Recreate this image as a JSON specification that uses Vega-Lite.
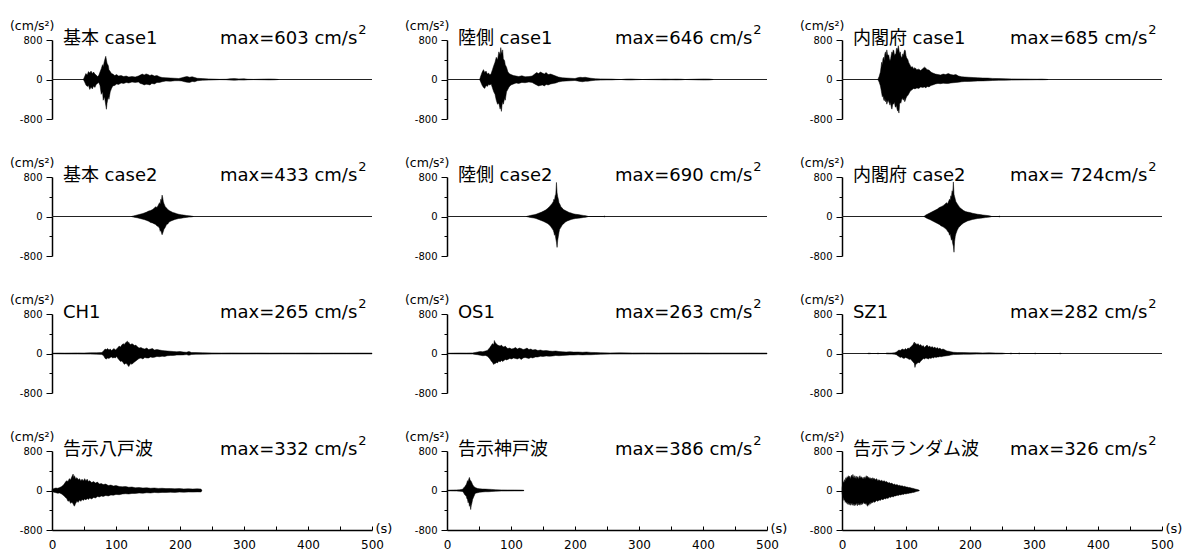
{
  "$schema": "https://vega.github.io/schema/vega-lite/v6.json",
  "padding": {"left": 9, "top": 18, "right": 5, "bottom": 5},
  "background": "white",
  "config": {
    "view": {"stroke": null},
    "font": "DejaVu Sans, Noto Sans CJK JP",
    "locale": {"number": {"decimal": ".", "thousands": ",", "grouping": [3], "currency": ["$", ""], "minus": "-"}},
    "axis": {"grid": false, "labelOverlap": false, "domainColor": "black", "tickColor": "black", "labelColor": "black", "titleColor": "black", "titleFontWeight": "normal", "labelFont": "DejaVu Sans", "titleFont": "DejaVu Sans"}
  },
  "data": {
    "values": [
      {"i":0,"name":"基本 case1","m":"max=603 cm/s","dur":500},
      {"i":1,"name":"陸側 case1","m":"max=646 cm/s","dur":500},
      {"i":2,"name":"内閣府 case1","m":"max=685 cm/s","dur":500},
      {"i":3,"name":"基本 case2","m":"max=433 cm/s","dur":500},
      {"i":4,"name":"陸側 case2","m":"max=690 cm/s","dur":500},
      {"i":5,"name":"内閣府 case2","m":"max= 724cm/s","dur":500},
      {"i":6,"name":"CH1","m":"max=265 cm/s","dur":500},
      {"i":7,"name":"OS1","m":"max=263 cm/s","dur":500},
      {"i":8,"name":"SZ1","m":"max=282 cm/s","dur":500},
      {"i":9,"name":"告示八戸波","m":"max=332 cm/s","dur":234},
      {"i":10,"name":"告示神戸波","m":"max=386 cm/s","dur":120},
      {"i":11,"name":"告示ランダム波","m":"max=326 cm/s","dur":120},

      {"i":0,"t":49,"h":0,"l":0},{"i":0,"t":51,"h":60,"l":-50},{"i":0,"t":53,"h":120,"l":-110},{"i":0,"t":55,"h":90,"l":-140},
      {"i":0,"t":57,"h":160,"l":-120},{"i":0,"t":59,"h":130,"l":-200},{"i":0,"t":61,"h":170,"l":-150},{"i":0,"t":63,"h":120,"l":-190},
      {"i":0,"t":65,"h":150,"l":-130},{"i":0,"t":67,"h":110,"l":-160},{"i":0,"t":69,"h":90,"l":-100},{"i":0,"t":71,"h":60,"l":-80},
      {"i":0,"t":73,"h":80,"l":-60},{"i":0,"t":75,"h":150,"l":-120},{"i":0,"t":77,"h":220,"l":-300},{"i":0,"t":79,"h":300,"l":-250},
      {"i":0,"t":80,"h":260,"l":-420},{"i":0,"t":82,"h":380,"l":-350},{"i":0,"t":84,"h":470,"l":-520},{"i":0,"t":85,"h":400,"l":-603},
      {"i":0,"t":86,"h":330,"l":-480},{"i":0,"t":88,"h":280,"l":-350},{"i":0,"t":89,"h":200,"l":-400},{"i":0,"t":91,"h":160,"l":-250},
      {"i":0,"t":93,"h":120,"l":-180},{"i":0,"t":95,"h":110,"l":-130},{"i":0,"t":98,"h":80,"l":-120},{"i":0,"t":101,"h":100,"l":-90},
      {"i":0,"t":104,"h":70,"l":-100},{"i":0,"t":108,"h":80,"l":-70},{"i":0,"t":112,"h":60,"l":-80},{"i":0,"t":116,"h":70,"l":-60},
      {"i":0,"t":120,"h":50,"l":-70},{"i":0,"t":125,"h":60,"l":-50},{"i":0,"t":130,"h":50,"l":-60},{"i":0,"t":135,"h":70,"l":-50},
      {"i":0,"t":138,"h":90,"l":-80},{"i":0,"t":141,"h":110,"l":-90},{"i":0,"t":144,"h":90,"l":-110},{"i":0,"t":147,"h":113,"l":-95},
      {"i":0,"t":150,"h":100,"l":-100},{"i":0,"t":153,"h":80,"l":-110},{"i":0,"t":156,"h":95,"l":-80},{"i":0,"t":160,"h":70,"l":-90},
      {"i":0,"t":164,"h":80,"l":-60},{"i":0,"t":168,"h":55,"l":-60},{"i":0,"t":172,"h":40,"l":-45},{"i":0,"t":178,"h":35,"l":-30},
      {"i":0,"t":185,"h":30,"l":-35},{"i":0,"t":192,"h":25,"l":-25},{"i":0,"t":198,"h":20,"l":-25},{"i":0,"t":203,"h":35,"l":-30},
      {"i":0,"t":207,"h":50,"l":-45},{"i":0,"t":211,"h":60,"l":-55},{"i":0,"t":215,"h":45,"l":-60},{"i":0,"t":219,"h":55,"l":-40},
      {"i":0,"t":223,"h":40,"l":-45},{"i":0,"t":227,"h":25,"l":-25},{"i":0,"t":235,"h":18,"l":-15},{"i":0,"t":245,"h":12,"l":-12},
      {"i":0,"t":253,"h":8,"l":-8},{"i":0,"t":262,"h":3,"l":-3},{"i":0,"t":272,"h":5,"l":-5},{"i":0,"t":278,"h":15,"l":-12},
      {"i":0,"t":285,"h":18,"l":-15},{"i":0,"t":292,"h":12,"l":-10},{"i":0,"t":300,"h":14,"l":-12},{"i":0,"t":306,"h":5,"l":-5},
      {"i":0,"t":315,"h":2,"l":-2},{"i":0,"t":332,"h":8,"l":-6},{"i":0,"t":340,"h":10,"l":-8},{"i":0,"t":348,"h":7,"l":-6},
      {"i":0,"t":354,"h":0,"l":0},

      {"i":1,"t":51,"h":0,"l":0},{"i":1,"t":53,"h":80,"l":-60},{"i":1,"t":55,"h":150,"l":-120},{"i":1,"t":57,"h":200,"l":-160},
      {"i":1,"t":59,"h":140,"l":-180},{"i":1,"t":61,"h":170,"l":-120},{"i":1,"t":63,"h":110,"l":-140},{"i":1,"t":65,"h":130,"l":-100},
      {"i":1,"t":67,"h":90,"l":-110},{"i":1,"t":69,"h":120,"l":-90},{"i":1,"t":71,"h":200,"l":-170},{"i":1,"t":73,"h":280,"l":-250},
      {"i":1,"t":75,"h":350,"l":-300},{"i":1,"t":77,"h":450,"l":-420},{"i":1,"t":79,"h":400,"l":-500},{"i":1,"t":81,"h":560,"l":-480},
      {"i":1,"t":83,"h":500,"l":-600},{"i":1,"t":84,"h":646,"l":-550},{"i":1,"t":85,"h":560,"l":-646},{"i":1,"t":86,"h":520,"l":-520},
      {"i":1,"t":87,"h":600,"l":-450},{"i":1,"t":88,"h":420,"l":-500},{"i":1,"t":90,"h":380,"l":-380},{"i":1,"t":91,"h":300,"l":-420},
      {"i":1,"t":93,"h":250,"l":-250},{"i":1,"t":95,"h":160,"l":-200},{"i":1,"t":97,"h":120,"l":-150},{"i":1,"t":100,"h":100,"l":-110},
      {"i":1,"t":104,"h":80,"l":-90},{"i":1,"t":108,"h":70,"l":-70},{"i":1,"t":112,"h":60,"l":-80},{"i":1,"t":117,"h":75,"l":-60},
      {"i":1,"t":122,"h":55,"l":-65},{"i":1,"t":128,"h":60,"l":-50},{"i":1,"t":133,"h":70,"l":-60},{"i":1,"t":137,"h":110,"l":-90},
      {"i":1,"t":140,"h":140,"l":-110},{"i":1,"t":143,"h":120,"l":-130},{"i":1,"t":146,"h":150,"l":-120},{"i":1,"t":149,"h":130,"l":-110},
      {"i":1,"t":152,"h":110,"l":-130},{"i":1,"t":155,"h":140,"l":-100},{"i":1,"t":158,"h":100,"l":-110},{"i":1,"t":162,"h":110,"l":-90},
      {"i":1,"t":166,"h":90,"l":-80},{"i":1,"t":170,"h":70,"l":-70},{"i":1,"t":174,"h":50,"l":-50},{"i":1,"t":180,"h":35,"l":-35},
      {"i":1,"t":186,"h":30,"l":-30},{"i":1,"t":193,"h":25,"l":-25},{"i":1,"t":200,"h":20,"l":-20},{"i":1,"t":204,"h":35,"l":-30},
      {"i":1,"t":208,"h":45,"l":-40},{"i":1,"t":212,"h":40,"l":-45},{"i":1,"t":216,"h":45,"l":-35},{"i":1,"t":220,"h":35,"l":-35},
      {"i":1,"t":225,"h":25,"l":-25},{"i":1,"t":232,"h":15,"l":-15},{"i":1,"t":240,"h":12,"l":-12},{"i":1,"t":250,"h":10,"l":-8},
      {"i":1,"t":258,"h":8,"l":-8},{"i":1,"t":264,"h":3,"l":-3},{"i":1,"t":272,"h":0,"l":0},{"i":1,"t":280,"h":8,"l":-8},
      {"i":1,"t":288,"h":10,"l":-10},{"i":1,"t":295,"h":5,"l":-5},{"i":1,"t":305,"h":0,"l":0},{"i":1,"t":332,"h":6,"l":-6},
      {"i":1,"t":340,"h":8,"l":-8},{"i":1,"t":350,"h":6,"l":-6},{"i":1,"t":358,"h":8,"l":-8},{"i":1,"t":366,"h":6,"l":-6},
      {"i":1,"t":372,"h":0,"l":0},{"i":1,"t":394,"h":8,"l":-8},{"i":1,"t":402,"h":10,"l":-10},{"i":1,"t":410,"h":8,"l":-8},
      {"i":1,"t":416,"h":0,"l":0},

      {"i":2,"t":56,"h":0,"l":0},{"i":2,"t":58,"h":60,"l":-50},{"i":2,"t":60,"h":150,"l":-130},{"i":2,"t":61,"h":250,"l":-200},
      {"i":2,"t":62,"h":350,"l":-280},{"i":2,"t":63,"h":300,"l":-350},{"i":2,"t":64,"h":420,"l":-320},{"i":2,"t":65,"h":450,"l":-400},
      {"i":2,"t":66,"h":380,"l":-430},{"i":2,"t":67,"h":520,"l":-380},{"i":2,"t":68,"h":560,"l":-450},{"i":2,"t":69,"h":480,"l":-420},
      {"i":2,"t":70,"h":600,"l":-500},{"i":2,"t":71,"h":520,"l":-460},{"i":2,"t":72,"h":480,"l":-420},{"i":2,"t":73,"h":500,"l":-450},
      {"i":2,"t":74,"h":420,"l":-480},{"i":2,"t":75,"h":380,"l":-520},{"i":2,"t":76,"h":420,"l":-460},{"i":2,"t":77,"h":500,"l":-560},
      {"i":2,"t":78,"h":560,"l":-600},{"i":2,"t":79,"h":520,"l":-520},{"i":2,"t":80,"h":600,"l":-480},{"i":2,"t":81,"h":580,"l":-500},
      {"i":2,"t":82,"h":480,"l":-450},{"i":2,"t":83,"h":520,"l":-550},{"i":2,"t":84,"h":500,"l":-560},{"i":2,"t":85,"h":620,"l":-520},
      {"i":2,"t":86,"h":640,"l":-600},{"i":2,"t":87,"h":580,"l":-640},{"i":2,"t":88,"h":685,"l":-620},{"i":2,"t":89,"h":600,"l":-680},
      {"i":2,"t":90,"h":520,"l":-500},{"i":2,"t":91,"h":560,"l":-460},{"i":2,"t":92,"h":480,"l":-480},{"i":2,"t":93,"h":440,"l":-420},
      {"i":2,"t":94,"h":460,"l":-380},{"i":2,"t":95,"h":520,"l":-400},{"i":2,"t":96,"h":480,"l":-420},{"i":2,"t":97,"h":560,"l":-380},
      {"i":2,"t":98,"h":600,"l":-450},{"i":2,"t":99,"h":580,"l":-420},{"i":2,"t":100,"h":480,"l":-380},{"i":2,"t":101,"h":440,"l":-350},
      {"i":2,"t":103,"h":400,"l":-320},{"i":2,"t":104,"h":350,"l":-300},{"i":2,"t":106,"h":300,"l":-250},{"i":2,"t":108,"h":250,"l":-220},
      {"i":2,"t":110,"h":260,"l":-200},{"i":2,"t":112,"h":220,"l":-180},{"i":2,"t":114,"h":240,"l":-190},{"i":2,"t":117,"h":200,"l":-170},
      {"i":2,"t":120,"h":210,"l":-180},{"i":2,"t":123,"h":180,"l":-150},{"i":2,"t":126,"h":220,"l":-160},{"i":2,"t":129,"h":250,"l":-150},
      {"i":2,"t":131,"h":230,"l":-170},{"i":2,"t":133,"h":200,"l":-140},{"i":2,"t":136,"h":190,"l":-150},{"i":2,"t":139,"h":150,"l":-120},
      {"i":2,"t":142,"h":130,"l":-110},{"i":2,"t":146,"h":110,"l":-90},{"i":2,"t":150,"h":100,"l":-80},{"i":2,"t":154,"h":90,"l":-85},
      {"i":2,"t":158,"h":110,"l":-75},{"i":2,"t":162,"h":100,"l":-80},{"i":2,"t":166,"h":120,"l":-80},{"i":2,"t":170,"h":100,"l":-70},
      {"i":2,"t":174,"h":90,"l":-65},{"i":2,"t":178,"h":100,"l":-60},{"i":2,"t":182,"h":70,"l":-55},{"i":2,"t":187,"h":55,"l":-45},
      {"i":2,"t":192,"h":50,"l":-40},{"i":2,"t":198,"h":45,"l":-40},{"i":2,"t":205,"h":40,"l":-35},{"i":2,"t":212,"h":35,"l":-30},
      {"i":2,"t":220,"h":30,"l":-28},{"i":2,"t":228,"h":28,"l":-25},{"i":2,"t":235,"h":22,"l":-20},{"i":2,"t":245,"h":18,"l":-16},
      {"i":2,"t":255,"h":15,"l":-14},{"i":2,"t":265,"h":12,"l":-12},{"i":2,"t":275,"h":10,"l":-10},{"i":2,"t":285,"h":9,"l":-8},
      {"i":2,"t":295,"h":7,"l":-7},{"i":2,"t":305,"h":6,"l":-5},{"i":2,"t":312,"h":8,"l":-6},{"i":2,"t":318,"h":4,"l":-4},
      {"i":2,"t":322,"h":0,"l":0},

      {"i":3,"t":124,"h":0,"l":0},{"i":3,"t":127,"h":10,"l":-10},{"i":3,"t":130,"h":20,"l":-18},{"i":3,"t":133,"h":30,"l":-25},
      {"i":3,"t":136,"h":40,"l":-35},{"i":3,"t":139,"h":50,"l":-45},{"i":3,"t":142,"h":60,"l":-55},{"i":3,"t":145,"h":75,"l":-65},
      {"i":3,"t":148,"h":90,"l":-80},{"i":3,"t":151,"h":110,"l":-95},{"i":3,"t":154,"h":120,"l":-120},{"i":3,"t":157,"h":140,"l":-130},
      {"i":3,"t":160,"h":170,"l":-150},{"i":3,"t":162,"h":200,"l":-160},{"i":3,"t":164,"h":180,"l":-190},{"i":3,"t":166,"h":230,"l":-200},
      {"i":3,"t":168,"h":280,"l":-240},{"i":3,"t":169,"h":250,"l":-300},{"i":3,"t":170,"h":350,"l":-280},{"i":3,"t":171,"h":320,"l":-330},
      {"i":3,"t":172,"h":433,"l":-370},{"i":3,"t":173,"h":380,"l":-340},{"i":3,"t":174,"h":300,"l":-300},{"i":3,"t":175,"h":260,"l":-260},
      {"i":3,"t":177,"h":200,"l":-220},{"i":3,"t":179,"h":170,"l":-160},{"i":3,"t":181,"h":140,"l":-150},{"i":3,"t":183,"h":120,"l":-110},
      {"i":3,"t":186,"h":100,"l":-90},{"i":3,"t":189,"h":80,"l":-75},{"i":3,"t":192,"h":70,"l":-60},{"i":3,"t":195,"h":55,"l":-50},
      {"i":3,"t":198,"h":45,"l":-40},{"i":3,"t":202,"h":35,"l":-35},{"i":3,"t":206,"h":28,"l":-25},{"i":3,"t":210,"h":20,"l":-18},
      {"i":3,"t":214,"h":14,"l":-12},{"i":3,"t":218,"h":8,"l":-8},{"i":3,"t":221,"h":0,"l":0},

      {"i":4,"t":124,"h":0,"l":0},{"i":4,"t":127,"h":12,"l":-10},{"i":4,"t":130,"h":20,"l":-18},{"i":4,"t":133,"h":28,"l":-25},
      {"i":4,"t":136,"h":35,"l":-30},{"i":4,"t":139,"h":45,"l":-40},{"i":4,"t":142,"h":60,"l":-55},{"i":4,"t":145,"h":75,"l":-70},
      {"i":4,"t":148,"h":90,"l":-85},{"i":4,"t":151,"h":110,"l":-100},{"i":4,"t":154,"h":130,"l":-120},{"i":4,"t":157,"h":160,"l":-140},
      {"i":4,"t":160,"h":200,"l":-170},{"i":4,"t":162,"h":230,"l":-200},{"i":4,"t":164,"h":260,"l":-240},{"i":4,"t":166,"h":300,"l":-280},
      {"i":4,"t":167,"h":350,"l":-320},{"i":4,"t":168,"h":330,"l":-380},{"i":4,"t":169,"h":420,"l":-360},{"i":4,"t":170,"h":450,"l":-450},
      {"i":4,"t":171,"h":690,"l":-520},{"i":4,"t":172,"h":480,"l":-626},{"i":4,"t":173,"h":400,"l":-480},{"i":4,"t":174,"h":350,"l":-400},
      {"i":4,"t":175,"h":280,"l":-320},{"i":4,"t":176,"h":260,"l":-260},{"i":4,"t":178,"h":200,"l":-220},{"i":4,"t":180,"h":170,"l":-170},
      {"i":4,"t":182,"h":140,"l":-150},{"i":4,"t":185,"h":120,"l":-110},{"i":4,"t":188,"h":100,"l":-90},{"i":4,"t":191,"h":80,"l":-75},
      {"i":4,"t":194,"h":70,"l":-60},{"i":4,"t":197,"h":55,"l":-50},{"i":4,"t":201,"h":45,"l":-40},{"i":4,"t":205,"h":38,"l":-35},
      {"i":4,"t":209,"h":30,"l":-28},{"i":4,"t":213,"h":22,"l":-20},{"i":4,"t":217,"h":15,"l":-14},{"i":4,"t":221,"h":0,"l":0},
      {"i":4,"t":245,"h":0,"l":0},{"i":4,"t":246,"h":8,"l":-8},{"i":4,"t":247,"h":0,"l":0},

      {"i":5,"t":128,"h":0,"l":0},{"i":5,"t":131,"h":30,"l":-25},{"i":5,"t":134,"h":50,"l":-45},{"i":5,"t":137,"h":70,"l":-60},
      {"i":5,"t":140,"h":90,"l":-80},{"i":5,"t":143,"h":110,"l":-100},{"i":5,"t":146,"h":130,"l":-120},{"i":5,"t":149,"h":150,"l":-140},
      {"i":5,"t":152,"h":180,"l":-160},{"i":5,"t":155,"h":200,"l":-190},{"i":5,"t":158,"h":220,"l":-210},{"i":5,"t":161,"h":250,"l":-240},
      {"i":5,"t":163,"h":280,"l":-260},{"i":5,"t":165,"h":260,"l":-300},{"i":5,"t":167,"h":320,"l":-330},{"i":5,"t":168,"h":350,"l":-380},
      {"i":5,"t":169,"h":330,"l":-350},{"i":5,"t":170,"h":420,"l":-420},{"i":5,"t":171,"h":400,"l":-480},{"i":5,"t":172,"h":520,"l":-450},
      {"i":5,"t":173,"h":480,"l":-550},{"i":5,"t":174,"h":700,"l":-600},{"i":5,"t":175,"h":450,"l":-724},{"i":5,"t":176,"h":400,"l":-500},
      {"i":5,"t":177,"h":350,"l":-400},{"i":5,"t":178,"h":300,"l":-350},{"i":5,"t":180,"h":260,"l":-280},{"i":5,"t":182,"h":220,"l":-230},
      {"i":5,"t":184,"h":180,"l":-200},{"i":5,"t":187,"h":150,"l":-160},{"i":5,"t":190,"h":120,"l":-130},{"i":5,"t":193,"h":100,"l":-110},
      {"i":5,"t":196,"h":90,"l":-90},{"i":5,"t":200,"h":80,"l":-75},{"i":5,"t":204,"h":65,"l":-60},{"i":5,"t":208,"h":55,"l":-50},
      {"i":5,"t":212,"h":45,"l":-40},{"i":5,"t":216,"h":38,"l":-35},{"i":5,"t":220,"h":30,"l":-28},{"i":5,"t":224,"h":25,"l":-22},
      {"i":5,"t":228,"h":18,"l":-16},{"i":5,"t":232,"h":10,"l":-8},{"i":5,"t":234,"h":0,"l":0},{"i":5,"t":245,"h":0,"l":0},
      {"i":5,"t":246,"h":8,"l":-8},{"i":5,"t":247,"h":0,"l":0},

      {"i":6,"t":0,"h":5,"l":-5},{"i":6,"t":10,"h":10,"l":-8},{"i":6,"t":20,"h":8,"l":-10},{"i":6,"t":30,"h":10,"l":-10},
      {"i":6,"t":40,"h":12,"l":-10},{"i":6,"t":50,"h":10,"l":-12},{"i":6,"t":60,"h":14,"l":-12},{"i":6,"t":70,"h":15,"l":-14},
      {"i":6,"t":78,"h":20,"l":-18},{"i":6,"t":81,"h":60,"l":-50},{"i":6,"t":83,"h":90,"l":-100},{"i":6,"t":85,"h":80,"l":-110},
      {"i":6,"t":87,"h":100,"l":-90},{"i":6,"t":89,"h":70,"l":-100},{"i":6,"t":91,"h":90,"l":-80},{"i":6,"t":93,"h":60,"l":-70},
      {"i":6,"t":95,"h":80,"l":-90},{"i":6,"t":97,"h":100,"l":-80},{"i":6,"t":99,"h":70,"l":-90},{"i":6,"t":101,"h":90,"l":-60},
      {"i":6,"t":103,"h":120,"l":-100},{"i":6,"t":105,"h":150,"l":-130},{"i":6,"t":107,"h":130,"l":-160},{"i":6,"t":109,"h":170,"l":-150},
      {"i":6,"t":111,"h":200,"l":-180},{"i":6,"t":113,"h":180,"l":-220},{"i":6,"t":115,"h":220,"l":-200},{"i":6,"t":117,"h":240,"l":-210},
      {"i":6,"t":118,"h":250,"l":-230},{"i":6,"t":119,"h":210,"l":-250},{"i":6,"t":120,"h":230,"l":-265},{"i":6,"t":121,"h":200,"l":-240},
      {"i":6,"t":123,"h":180,"l":-200},{"i":6,"t":125,"h":200,"l":-220},{"i":6,"t":127,"h":180,"l":-190},{"i":6,"t":129,"h":160,"l":-170},
      {"i":6,"t":131,"h":170,"l":-150},{"i":6,"t":133,"h":140,"l":-130},{"i":6,"t":136,"h":110,"l":-100},{"i":6,"t":139,"h":120,"l":-90},
      {"i":6,"t":142,"h":100,"l":-110},{"i":6,"t":145,"h":90,"l":-80},{"i":6,"t":148,"h":110,"l":-90},{"i":6,"t":151,"h":80,"l":-90},
      {"i":6,"t":154,"h":90,"l":-70},{"i":6,"t":157,"h":100,"l":-80},{"i":6,"t":160,"h":70,"l":-75},{"i":6,"t":164,"h":80,"l":-60},
      {"i":6,"t":168,"h":70,"l":-65},{"i":6,"t":172,"h":60,"l":-55},{"i":6,"t":176,"h":55,"l":-60},{"i":6,"t":180,"h":50,"l":-45},
      {"i":6,"t":185,"h":45,"l":-40},{"i":6,"t":190,"h":40,"l":-38},{"i":6,"t":195,"h":35,"l":-30},{"i":6,"t":200,"h":40,"l":-30},
      {"i":6,"t":205,"h":30,"l":-28},{"i":6,"t":210,"h":25,"l":-22},{"i":6,"t":214,"h":40,"l":-35},{"i":6,"t":218,"h":20,"l":-20},
      {"i":6,"t":225,"h":18,"l":-16},{"i":6,"t":235,"h":15,"l":-14},{"i":6,"t":250,"h":12,"l":-12},{"i":6,"t":265,"h":10,"l":-10},
      {"i":6,"t":280,"h":12,"l":-10},{"i":6,"t":300,"h":10,"l":-10},{"i":6,"t":320,"h":11,"l":-9},{"i":6,"t":340,"h":9,"l":-10},
      {"i":6,"t":360,"h":10,"l":-9},{"i":6,"t":380,"h":9,"l":-9},{"i":6,"t":400,"h":10,"l":-10},{"i":6,"t":420,"h":8,"l":-9},
      {"i":6,"t":440,"h":9,"l":-8},{"i":6,"t":460,"h":8,"l":-8},{"i":6,"t":480,"h":9,"l":-8},{"i":6,"t":500,"h":8,"l":-8},

      {"i":7,"t":0,"h":5,"l":-5},{"i":7,"t":10,"h":8,"l":-8},{"i":7,"t":20,"h":10,"l":-9},{"i":7,"t":30,"h":9,"l":-10},
      {"i":7,"t":40,"h":12,"l":-10},{"i":7,"t":44,"h":20,"l":-18},{"i":7,"t":48,"h":30,"l":-25},{"i":7,"t":52,"h":40,"l":-35},
      {"i":7,"t":56,"h":35,"l":-45},{"i":7,"t":60,"h":50,"l":-40},{"i":7,"t":63,"h":60,"l":-55},{"i":7,"t":65,"h":90,"l":-80},
      {"i":7,"t":67,"h":120,"l":-110},{"i":7,"t":69,"h":160,"l":-150},{"i":7,"t":71,"h":200,"l":-180},{"i":7,"t":73,"h":180,"l":-223},
      {"i":7,"t":74,"h":263,"l":-200},{"i":7,"t":75,"h":230,"l":-210},{"i":7,"t":77,"h":200,"l":-180},{"i":7,"t":79,"h":170,"l":-190},
      {"i":7,"t":81,"h":160,"l":-150},{"i":7,"t":83,"h":150,"l":-170},{"i":7,"t":85,"h":170,"l":-140},{"i":7,"t":87,"h":140,"l":-160},
      {"i":7,"t":89,"h":130,"l":-140},{"i":7,"t":91,"h":150,"l":-120},{"i":7,"t":93,"h":120,"l":-130},{"i":7,"t":95,"h":100,"l":-120},
      {"i":7,"t":98,"h":110,"l":-100},{"i":7,"t":101,"h":90,"l":-110},{"i":7,"t":104,"h":100,"l":-90},{"i":7,"t":107,"h":120,"l":-100},
      {"i":7,"t":110,"h":90,"l":-110},{"i":7,"t":113,"h":110,"l":-90},{"i":7,"t":116,"h":100,"l":-120},{"i":7,"t":119,"h":80,"l":-90},
      {"i":7,"t":122,"h":90,"l":-80},{"i":7,"t":125,"h":110,"l":-90},{"i":7,"t":128,"h":80,"l":-100},{"i":7,"t":131,"h":90,"l":-80},
      {"i":7,"t":134,"h":70,"l":-90},{"i":7,"t":138,"h":80,"l":-70},{"i":7,"t":142,"h":60,"l":-70},{"i":7,"t":146,"h":70,"l":-55},
      {"i":7,"t":150,"h":55,"l":-60},{"i":7,"t":155,"h":60,"l":-50},{"i":7,"t":160,"h":50,"l":-55},{"i":7,"t":165,"h":45,"l":-50},
      {"i":7,"t":170,"h":50,"l":-40},{"i":7,"t":175,"h":40,"l":-45},{"i":7,"t":180,"h":35,"l":-40},{"i":7,"t":186,"h":30,"l":-35},
      {"i":7,"t":192,"h":35,"l":-30},{"i":7,"t":198,"h":28,"l":-30},{"i":7,"t":205,"h":30,"l":-25},{"i":7,"t":212,"h":25,"l":-28},
      {"i":7,"t":218,"h":30,"l":-25},{"i":7,"t":225,"h":22,"l":-25},{"i":7,"t":232,"h":20,"l":-20},{"i":7,"t":240,"h":15,"l":-15},
      {"i":7,"t":255,"h":12,"l":-12},{"i":7,"t":270,"h":13,"l":-11},{"i":7,"t":290,"h":11,"l":-12},{"i":7,"t":310,"h":12,"l":-10},
      {"i":7,"t":330,"h":10,"l":-11},{"i":7,"t":350,"h":11,"l":-10},{"i":7,"t":370,"h":10,"l":-10},{"i":7,"t":390,"h":11,"l":-9},
      {"i":7,"t":410,"h":9,"l":-10},{"i":7,"t":430,"h":10,"l":-9},{"i":7,"t":450,"h":9,"l":-9},{"i":7,"t":470,"h":10,"l":-9},
      {"i":7,"t":490,"h":9,"l":-9},{"i":7,"t":500,"h":8,"l":-8},

      {"i":8,"t":40,"h":0,"l":0},{"i":8,"t":42,"h":8,"l":-6},{"i":8,"t":46,"h":0,"l":0},{"i":8,"t":55,"h":0,"l":0},
      {"i":8,"t":56,"h":8,"l":-8},{"i":8,"t":58,"h":0,"l":0},{"i":8,"t":68,"h":0,"l":0},{"i":8,"t":70,"h":10,"l":-8},
      {"i":8,"t":74,"h":8,"l":-10},{"i":8,"t":78,"h":10,"l":-10},{"i":8,"t":82,"h":15,"l":-15},{"i":8,"t":85,"h":30,"l":-25},
      {"i":8,"t":87,"h":50,"l":-45},{"i":8,"t":89,"h":70,"l":-60},{"i":8,"t":91,"h":60,"l":-80},{"i":8,"t":93,"h":80,"l":-70},
      {"i":8,"t":95,"h":90,"l":-90},{"i":8,"t":97,"h":70,"l":-100},{"i":8,"t":99,"h":100,"l":-80},{"i":8,"t":101,"h":80,"l":-90},
      {"i":8,"t":103,"h":110,"l":-100},{"i":8,"t":105,"h":100,"l":-120},{"i":8,"t":107,"h":130,"l":-110},{"i":8,"t":109,"h":150,"l":-140},
      {"i":8,"t":111,"h":180,"l":-170},{"i":8,"t":113,"h":233,"l":-200},{"i":8,"t":114,"h":200,"l":-282},{"i":8,"t":115,"h":210,"l":-230},
      {"i":8,"t":117,"h":180,"l":-200},{"i":8,"t":119,"h":200,"l":-180},{"i":8,"t":121,"h":160,"l":-190},{"i":8,"t":123,"h":180,"l":-150},
      {"i":8,"t":125,"h":140,"l":-130},{"i":8,"t":127,"h":160,"l":-100},{"i":8,"t":129,"h":120,"l":-110},{"i":8,"t":131,"h":150,"l":-90},
      {"i":8,"t":133,"h":170,"l":-100},{"i":8,"t":135,"h":130,"l":-110},{"i":8,"t":137,"h":150,"l":-90},{"i":8,"t":139,"h":120,"l":-100},
      {"i":8,"t":141,"h":140,"l":-80},{"i":8,"t":143,"h":110,"l":-90},{"i":8,"t":145,"h":130,"l":-70},{"i":8,"t":147,"h":100,"l":-80},
      {"i":8,"t":149,"h":120,"l":-70},{"i":8,"t":151,"h":90,"l":-70},{"i":8,"t":153,"h":110,"l":-60},{"i":8,"t":155,"h":80,"l":-65},
      {"i":8,"t":158,"h":90,"l":-55},{"i":8,"t":161,"h":70,"l":-50},{"i":8,"t":164,"h":50,"l":-45},{"i":8,"t":167,"h":45,"l":-40},
      {"i":8,"t":170,"h":35,"l":-30},{"i":8,"t":174,"h":25,"l":-22},{"i":8,"t":180,"h":20,"l":-18},{"i":8,"t":190,"h":18,"l":-15},
      {"i":8,"t":200,"h":15,"l":-14},{"i":8,"t":210,"h":16,"l":-12},{"i":8,"t":220,"h":12,"l":-12},{"i":8,"t":230,"h":14,"l":-10},
      {"i":8,"t":240,"h":10,"l":-10},{"i":8,"t":250,"h":8,"l":-8},{"i":8,"t":256,"h":0,"l":0},{"i":8,"t":262,"h":0,"l":0},
      {"i":8,"t":264,"h":8,"l":-8},{"i":8,"t":266,"h":0,"l":0},{"i":8,"t":275,"h":0,"l":0},{"i":8,"t":277,"h":8,"l":-6},
      {"i":8,"t":279,"h":0,"l":0},{"i":8,"t":300,"h":0,"l":0},{"i":8,"t":302,"h":6,"l":-6},{"i":8,"t":304,"h":0,"l":0},
      {"i":8,"t":339,"h":0,"l":0},{"i":8,"t":341,"h":6,"l":-6},{"i":8,"t":343,"h":0,"l":0},

      {"i":9,"t":0,"h":20,"l":-20},{"i":9,"t":3,"h":40,"l":-35},{"i":9,"t":6,"h":50,"l":-45},{"i":9,"t":9,"h":45,"l":-55},
      {"i":9,"t":12,"h":60,"l":-50},{"i":9,"t":15,"h":80,"l":-70},{"i":9,"t":17,"h":100,"l":-90},{"i":9,"t":19,"h":130,"l":-110},
      {"i":9,"t":21,"h":170,"l":-140},{"i":9,"t":23,"h":200,"l":-160},{"i":9,"t":25,"h":180,"l":-220},{"i":9,"t":27,"h":240,"l":-200},
      {"i":9,"t":29,"h":220,"l":-260},{"i":9,"t":31,"h":280,"l":-240},{"i":9,"t":33,"h":332,"l":-270},{"i":9,"t":34,"h":260,"l":-300},
      {"i":9,"t":35,"h":300,"l":-318},{"i":9,"t":37,"h":240,"l":-260},{"i":9,"t":39,"h":260,"l":-220},{"i":9,"t":41,"h":220,"l":-240},
      {"i":9,"t":43,"h":240,"l":-190},{"i":9,"t":45,"h":200,"l":-220},{"i":9,"t":47,"h":230,"l":-180},{"i":9,"t":49,"h":190,"l":-200},
      {"i":9,"t":51,"h":240,"l":-170},{"i":9,"t":53,"h":200,"l":-190},{"i":9,"t":55,"h":230,"l":-160},{"i":9,"t":57,"h":180,"l":-180},
      {"i":9,"t":59,"h":200,"l":-150},{"i":9,"t":62,"h":160,"l":-170},{"i":9,"t":65,"h":180,"l":-140},{"i":9,"t":68,"h":150,"l":-150},
      {"i":9,"t":71,"h":170,"l":-120},{"i":9,"t":74,"h":130,"l":-130},{"i":9,"t":77,"h":140,"l":-110},{"i":9,"t":80,"h":120,"l":-120},
      {"i":9,"t":84,"h":130,"l":-100},{"i":9,"t":88,"h":100,"l":-110},{"i":9,"t":92,"h":110,"l":-90},{"i":9,"t":96,"h":90,"l":-95},
      {"i":9,"t":100,"h":100,"l":-80},{"i":9,"t":105,"h":80,"l":-85},{"i":9,"t":110,"h":75,"l":-70},{"i":9,"t":115,"h":80,"l":-65},
      {"i":9,"t":120,"h":65,"l":-70},{"i":9,"t":125,"h":70,"l":-60},{"i":9,"t":130,"h":55,"l":-60},{"i":9,"t":136,"h":60,"l":-50},
      {"i":9,"t":142,"h":50,"l":-55},{"i":9,"t":148,"h":55,"l":-45},{"i":9,"t":154,"h":45,"l":-50},{"i":9,"t":160,"h":50,"l":-40},
      {"i":9,"t":166,"h":42,"l":-45},{"i":9,"t":172,"h":45,"l":-38},{"i":9,"t":178,"h":38,"l":-40},{"i":9,"t":185,"h":40,"l":-35},
      {"i":9,"t":192,"h":35,"l":-38},{"i":9,"t":199,"h":38,"l":-32},{"i":9,"t":206,"h":32,"l":-35},{"i":9,"t":213,"h":35,"l":-30},
      {"i":9,"t":220,"h":30,"l":-32},{"i":9,"t":227,"h":33,"l":-28},{"i":9,"t":233,"h":28,"l":-30},{"i":9,"t":234,"h":0,"l":0},

      {"i":10,"t":0,"h":5,"l":-5},{"i":10,"t":5,"h":8,"l":-8},{"i":10,"t":10,"h":10,"l":-10},{"i":10,"t":15,"h":12,"l":-10},
      {"i":10,"t":20,"h":15,"l":-15},{"i":10,"t":24,"h":25,"l":-20},{"i":10,"t":26,"h":50,"l":-45},{"i":10,"t":28,"h":80,"l":-90},
      {"i":10,"t":30,"h":120,"l":-110},{"i":10,"t":31,"h":150,"l":-160},{"i":10,"t":32,"h":200,"l":-180},{"i":10,"t":33,"h":180,"l":-250},
      {"i":10,"t":34,"h":230,"l":-220},{"i":10,"t":35,"h":265,"l":-320},{"i":10,"t":36,"h":220,"l":-280},{"i":10,"t":37,"h":200,"l":-386},
      {"i":10,"t":38,"h":180,"l":-300},{"i":10,"t":39,"h":150,"l":-250},{"i":10,"t":40,"h":120,"l":-180},{"i":10,"t":41,"h":100,"l":-150},
      {"i":10,"t":42,"h":80,"l":-120},{"i":10,"t":44,"h":60,"l":-60},{"i":10,"t":46,"h":50,"l":-50},{"i":10,"t":48,"h":40,"l":-45},
      {"i":10,"t":51,"h":35,"l":-35},{"i":10,"t":55,"h":30,"l":-30},{"i":10,"t":60,"h":28,"l":-25},{"i":10,"t":65,"h":25,"l":-25},
      {"i":10,"t":70,"h":22,"l":-20},{"i":10,"t":76,"h":15,"l":-15},{"i":10,"t":85,"h":12,"l":-10},{"i":10,"t":95,"h":10,"l":-10},
      {"i":10,"t":105,"h":10,"l":-8},{"i":10,"t":115,"h":8,"l":-8},{"i":10,"t":120,"h":5,"l":-5},

      {"i":11,"t":0,"h":50,"l":-50},{"i":11,"t":1,"h":120,"l":-100},{"i":11,"t":2,"h":180,"l":-160},{"i":11,"t":3,"h":150,"l":-200},
      {"i":11,"t":4,"h":220,"l":-180},{"i":11,"t":5,"h":200,"l":-240},{"i":11,"t":6,"h":260,"l":-220},{"i":11,"t":7,"h":230,"l":-260},
      {"i":11,"t":8,"h":280,"l":-240},{"i":11,"t":9,"h":250,"l":-280},{"i":11,"t":10,"h":300,"l":-250},{"i":11,"t":11,"h":260,"l":-290},
      {"i":11,"t":12,"h":290,"l":-260},{"i":11,"t":13,"h":240,"l":-300},{"i":11,"t":14,"h":280,"l":-250},{"i":11,"t":15,"h":310,"l":-280},
      {"i":11,"t":16,"h":270,"l":-300},{"i":11,"t":17,"h":326,"l":-260},{"i":11,"t":18,"h":280,"l":-290},{"i":11,"t":19,"h":250,"l":-310},
      {"i":11,"t":20,"h":300,"l":-270},{"i":11,"t":21,"h":270,"l":-300},{"i":11,"t":22,"h":240,"l":-260},{"i":11,"t":23,"h":290,"l":-280},
      {"i":11,"t":24,"h":260,"l":-310},{"i":11,"t":25,"h":280,"l":-250},{"i":11,"t":26,"h":230,"l":-290},{"i":11,"t":27,"h":270,"l":-270},
      {"i":11,"t":28,"h":300,"l":-300},{"i":11,"t":29,"h":250,"l":-260},{"i":11,"t":30,"h":280,"l":-290},{"i":11,"t":31,"h":260,"l":-250},
      {"i":11,"t":32,"h":240,"l":-280},{"i":11,"t":33,"h":270,"l":-260},{"i":11,"t":34,"h":230,"l":-240},{"i":11,"t":35,"h":260,"l":-270},
      {"i":11,"t":36,"h":280,"l":-250},{"i":11,"t":37,"h":240,"l":-280},{"i":11,"t":38,"h":300,"l":-260},{"i":11,"t":39,"h":260,"l":-300},
      {"i":11,"t":40,"h":290,"l":-320},{"i":11,"t":41,"h":250,"l":-270},{"i":11,"t":42,"h":270,"l":-300},{"i":11,"t":43,"h":240,"l":-250},
      {"i":11,"t":44,"h":260,"l":-280},{"i":11,"t":45,"h":230,"l":-240},{"i":11,"t":46,"h":250,"l":-260},{"i":11,"t":47,"h":220,"l":-230},
      {"i":11,"t":48,"h":260,"l":-250},{"i":11,"t":49,"h":230,"l":-220},{"i":11,"t":50,"h":250,"l":-240},{"i":11,"t":52,"h":220,"l":-230},
      {"i":11,"t":54,"h":240,"l":-200},{"i":11,"t":56,"h":200,"l":-220},{"i":11,"t":58,"h":220,"l":-190},{"i":11,"t":60,"h":190,"l":-200},
      {"i":11,"t":62,"h":210,"l":-170},{"i":11,"t":64,"h":180,"l":-190},{"i":11,"t":66,"h":200,"l":-160},{"i":11,"t":68,"h":170,"l":-170},
      {"i":11,"t":70,"h":180,"l":-150},{"i":11,"t":72,"h":150,"l":-160},{"i":11,"t":74,"h":160,"l":-130},{"i":11,"t":76,"h":140,"l":-140},
      {"i":11,"t":78,"h":150,"l":-120},{"i":11,"t":80,"h":120,"l":-130},{"i":11,"t":82,"h":130,"l":-110},{"i":11,"t":84,"h":110,"l":-110},
      {"i":11,"t":86,"h":120,"l":-95},{"i":11,"t":88,"h":100,"l":-100},{"i":11,"t":90,"h":105,"l":-85},{"i":11,"t":92,"h":90,"l":-90},
      {"i":11,"t":94,"h":95,"l":-75},{"i":11,"t":96,"h":80,"l":-80},{"i":11,"t":98,"h":85,"l":-65},{"i":11,"t":100,"h":70,"l":-70},
      {"i":11,"t":102,"h":70,"l":-60},{"i":11,"t":104,"h":60,"l":-60},{"i":11,"t":106,"h":60,"l":-50},{"i":11,"t":108,"h":50,"l":-50},
      {"i":11,"t":110,"h":45,"l":-40},{"i":11,"t":112,"h":40,"l":-38},{"i":11,"t":114,"h":30,"l":-30},{"i":11,"t":116,"h":25,"l":-22},
      {"i":11,"t":118,"h":18,"l":-15},{"i":11,"t":120,"h":10,"l":-8},{"i":11,"t":121,"h":0,"l":0}
    ]
  },
  "facet": {"field": "i", "type": "ordinal", "header": {"title": null, "labelExpr": "''", "labelPadding": 0, "labelFontSize": 1}},
  "columns": 3,
  "bounds": "flush",
  "spacing": {"row": 58, "column": 75},
  "resolve": {"axis": {"y": "independent"}},
  "spec": {
    "width": 320,
    "height": 79,
    "layer": [
      {
        "transform": [{"filter": "isValid(datum.dur)"}],
        "mark": {"type": "rule", "color": "#222", "strokeWidth": 1},
        "encoding": {
          "x": {"field": "dur", "type": "quantitative"},
          "x2": {"datum": 0},
          "y": {"datum": 0, "type": "quantitative"}
        }
      },
      {
        "transform": [{"filter": "isValid(datum.t)"}],
        "mark": {"type": "area", "color": "black", "stroke": "black", "strokeWidth": 0.5, "interpolate": "linear"},
        "encoding": {
          "x": {
            "field": "t", "type": "quantitative",
            "scale": {"domain": [0, 500], "nice": false},
            "axis": {
              "title": "(s)",
              "values": [0, 50, 100, 150, 200, 250, 300, 350, 400, 450, 500],
              "tickCount": 20,
              "labelExpr": "datum.value % 100 == 0 ? datum.label : ''",
              "tickSize": -4,
              "domainWidth": 1.5,
              "labelFontSize": 12,
              "labelPadding": 13,
              "labelFlush": false,
              "titleFontSize": 13,
              "titleAlign": "left",
              "titleBaseline": "middle",
              "titleAnchor": "start",
              "titleX": 323,
              "titleY": -2
            }
          },
          "y": {
            "field": "h", "type": "quantitative",
            "scale": {"domain": [-800, 800], "nice": false},
            "axis": {
              "title": "(cm/s²)",
              "values": [-800, -400, 0, 400, 800],
              "tickCount": 10,
              "labelExpr": "datum.value % 800 == 0 ? datum.label : ''",
              "tickSize": {"condition": {"test": "datum.value % 800 != 0", "value": 3}, "value": 6},
              "domainWidth": 1.5,
              "labelFontSize": 10,
              "labelPadding": 4,
              "labelFlush": false,
              "labelBound": false,
              "titleFontSize": 12.5,
              "titleAngle": 0,
              "titleAlign": "right",
              "titleBaseline": "alphabetic",
              "titleAnchor": "end",
              "titleX": 2,
              "titleY": -11
            }
          },
          "y2": {"field": "l"}
        }
      },
      {
        "transform": [{"filter": "isValid(datum.dur)"}],
        "mark": {"type": "text", "align": "left", "baseline": "alphabetic", "fontSize": 18, "color": "black"},
        "encoding": {
          "x": {"datum": 17, "type": "quantitative"},
          "y": {"datum": 720, "type": "quantitative"},
          "text": {"field": "name"}
        }
      },
      {
        "transform": [{"filter": "isValid(datum.dur)"}],
        "mark": {"type": "text", "align": "right", "baseline": "alphabetic", "fontSize": 18, "color": "black"},
        "encoding": {
          "x": {"datum": 477, "type": "quantitative"},
          "y": {"datum": 720, "type": "quantitative"},
          "text": {"field": "m"}
        }
      },
      {
        "transform": [{"filter": "isValid(datum.dur)"}],
        "mark": {"type": "text", "align": "left", "baseline": "alphabetic", "fontSize": 13, "dx": 1, "dy": -10, "color": "black"},
        "encoding": {
          "x": {"datum": 477, "type": "quantitative"},
          "y": {"datum": 720, "type": "quantitative"},
          "text": {"value": "2"}
        }
      }
    ]
  }
}
